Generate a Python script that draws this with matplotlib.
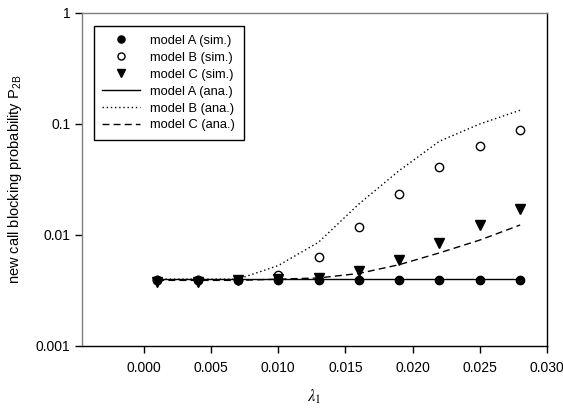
import matplotlib
matplotlib.use("Agg")
import matplotlib.pyplot as plt
from matplotlib.ticker import FixedLocator, FixedFormatter, NullLocator

plt.rcParams['font.family'] = ['Liberation Sans', 'DejaVu Sans']
plt.rcParams['mathtext.fontset'] = 'stix'

# arrival rate lambda_1
lam = [0.001, 0.004, 0.007, 0.010, 0.013, 0.016, 0.019, 0.022, 0.025, 0.028]

# simulation results
sim_a = [0.0039, 0.0039, 0.0039, 0.0039, 0.0039, 0.0039, 0.0039, 0.0039, 0.0039, 0.0039]
sim_b = [0.0039, 0.0039, 0.0039, 0.0044, 0.0063, 0.0119, 0.0234, 0.0412, 0.063, 0.088]
sim_c = [0.0038, 0.0038, 0.0039, 0.0040, 0.0041, 0.0047, 0.0059, 0.0085, 0.0123, 0.0170]

# analytical results
ana_a = [0.0040, 0.0040, 0.0040, 0.0040, 0.0040, 0.0040, 0.0040, 0.0040, 0.0040, 0.0040]
ana_b = [0.0040, 0.0040, 0.0040, 0.0053, 0.0086, 0.019, 0.038, 0.070, 0.100, 0.133]
ana_c = [0.0039, 0.0039, 0.0039, 0.0040, 0.0041, 0.0045, 0.0054, 0.0069, 0.0090, 0.0123]

yticks = [0.001, 0.01, 0.1, 1]
ytick_labels = ["0.001", "0.01", "0.1", "1"]
xticks = [0.000, 0.005, 0.010, 0.015, 0.020, 0.025, 0.030]

fig = plt.figure(figsize=(5.63, 4.11), dpi=100)
ax = fig.add_axes([0.1456, 0.1582, 0.8260, 0.8102])

ax.plot(lam, ana_a, color='black', lw=1.0, label='model A (ana.)', zorder=2)
ax.plot(lam, ana_b, color='black', lw=1.0, linestyle=(0, (1, 2)), label='model B (ana.)', zorder=2)
ax.plot(lam, ana_c, color='black', lw=1.0, linestyle=(0, (5, 3)), label='model C (ana.)', zorder=2)

ax.plot(lam, sim_b, 'o', ms=6, mfc='white', mec='black', mew=1.0, ls='none', label='model B (sim.)', zorder=3)
ax.plot(lam, sim_c, 'v', ms=6.5, color='black', ls='none', label='model C (sim.)', zorder=3)
ax.plot(lam, sim_a, 'o', ms=6, color='black', ls='none', label='model A (sim.)', zorder=4)

ax.set_yscale('log')
ax.set_ylim(0.001, 1)
ax.set_xlim(-0.0046, 0.030)
ax.yaxis.set_major_locator(FixedLocator(yticks))
ax.yaxis.set_major_formatter(FixedFormatter(ytick_labels))
ax.yaxis.set_minor_locator(NullLocator())
ax.set_xticks(xticks)
ax.set_xticklabels(["%.3f" % v for v in xticks])
ax.tick_params(direction='out', length=5, width=1, labelsize=10, colors='black')
ax.tick_params(axis='x', pad=6)

for side in ['left', 'top']:
    ax.spines[side].set_color('#7f7f7f')
for side in ['right', 'bottom']:
    ax.spines[side].set_color('black')
for s in ax.spines.values():
    s.set_linewidth(1.0)

ax.set_ylabel(r'new call blocking probability P$_{\mathregular{2B}}$', fontsize=10.5, labelpad=8)
ax.set_xlabel(r'$\lambda_1$', fontsize=12, labelpad=9)

handles, labels = ax.get_legend_handles_labels()
order = ['model A (sim.)', 'model B (sim.)', 'model C (sim.)',
         'model A (ana.)', 'model B (ana.)', 'model C (ana.)']
hmap = dict(zip(labels, handles))
leg = ax.legend([hmap[k] for k in order], order, loc='upper left',
                bbox_to_anchor=(0.026, 0.96), borderaxespad=0, fontsize=9.3,
                fancybox=False, framealpha=1, edgecolor='black',
                handlelength=2.9, handletextpad=0.8, labelspacing=0.38,
                markerscale=0.85, borderpad=0.65)
leg.get_frame().set_linewidth(1.0)

fig.savefig('out.png', dpi=100)
